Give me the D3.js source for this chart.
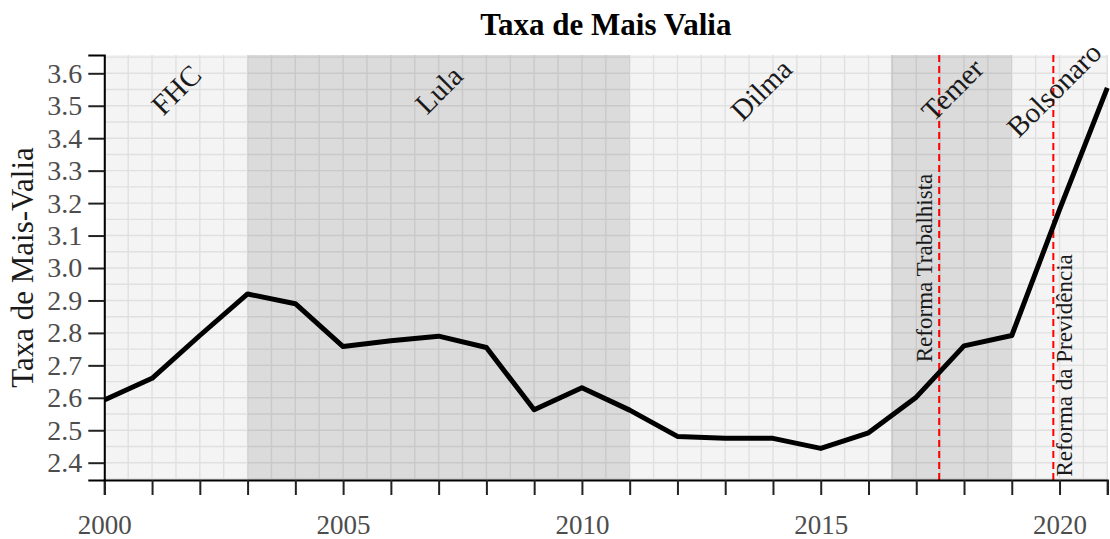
<!DOCTYPE html>
<html>
<head>
<meta charset="utf-8">
<script src="https://cdn.jsdelivr.net/npm/d3@7"></script>
<style>
    body { margin: 0; background: #fff; }
    svg text { font-family: "Liberation Serif", "Times New Roman", serif; }
</style>
</head>
<body>
<svg id="chart" width="1110" height="539"></svg>
<script>
// data
const years = [2000, 2001, 2002, 2003, 2004, 2005, 2006, 2007, 2008, 2009, 2010,
               2011, 2012, 2013, 2014, 2015, 2016, 2017, 2018, 2019, 2020, 2021]
const rates = [2.593, 2.66, 2.792, 2.92, 2.89, 2.758, 2.776, 2.79, 2.755, 2.563, 2.631,
               2.562, 2.481, 2.475, 2.475, 2.444, 2.492, 2.602, 2.76, 2.792, 3.18, 3.555]

const govNames  = ['FHC', 'Lula', 'Dilma', 'Temer', 'Bolsonaro']
const govStart  = [2000, 2003, 2011, 2016.47, 2019]
const govEnd    = [2003, 2011, 2016.47, 2019, 2021]
const govShaded = [false, true, false, true, false]
const govLabelX = [2001.5, 2007, 2013.75, 2017.75, 2019.88]

const reformNames = ['Reforma Trabalhista', 'Reforma da Previdência']
const reformDates = [2017.48, 2019.87]
const reformLabelX = [2017.16, 2020.1]
const reformLabelY = [3.0, 2.7]

const xTickLabels = [2000, 2005, 2010, 2015, 2020]
const yTickLabels = [2.4, 2.5, 2.6, 2.7, 2.8, 2.9, 3.0, 3.1, 3.2, 3.3, 3.4, 3.5, 3.6]

const plotLeft = 104.3, plotRight = 1107.3, plotTop = 55, plotBottom = 480

const svg = d3.select('#chart')

const x = d3.scaleLinear().domain([2000, 2021]).range([plotLeft, plotRight])
const y = d3.scaleLinear().domain([2.3467, 3.6564]).range([plotBottom, plotTop])

// panel
svg.append('rect')
    .attr('x', plotLeft).attr('y', plotTop)
    .attr('width', plotRight - plotLeft).attr('height', plotBottom - plotTop)
    .attr('fill', '#f4f4f4')

// grid
const gridX = d3.range(2000, 2021.01, 0.5)
const gridY = d3.range(2.35, 3.656, 0.05)

svg.append('g').selectAll('line')
    .data(gridX)
    .enter()
    .append('line')
    .attr('x1', (d) => x(d)).attr('x2', (d) => x(d))
    .attr('y1', plotTop).attr('y2', plotBottom)
    .attr('stroke', '#e0e0e0')
    .attr('stroke-width', 1.4)

svg.append('g').selectAll('line')
    .data(gridY)
    .enter()
    .append('line')
    .attr('x1', plotLeft).attr('x2', plotRight)
    .attr('y1', (d) => y(d)).attr('y2', (d) => y(d))
    .attr('stroke', '#e0e0e0')
    .attr('stroke-width', 1.4)

// shaded governments
const shadedIdx = d3.range(govNames.length).filter((i) => govShaded[i])

svg.append('g').selectAll('rect')
    .data(shadedIdx)
    .enter()
    .append('rect')
    .attr('x', (i) => x(govStart[i]))
    .attr('width', (i) => x(govEnd[i]) - x(govStart[i]))
    .attr('y', plotTop)
    .attr('height', plotBottom - plotTop)
    .attr('fill', '#000')
    .attr('opacity', 0.1)

// reform lines
svg.append('g').selectAll('line')
    .data(reformDates)
    .enter()
    .append('line')
    .attr('x1', (d) => x(d)).attr('x2', (d) => x(d))
    .attr('y1', plotTop).attr('y2', plotBottom)
    .attr('stroke', '#ff0000')
    .attr('stroke-width', 2)
    .attr('stroke-dasharray', '7,4')

// series
const line = d3.line()
    .x((d, i) => x(years[i]))
    .y((d) => y(d))

svg.append('path')
    .datum(rates)
    .attr('d', line)
    .attr('fill', 'none')
    .attr('stroke', '#000')
    .attr('stroke-width', 5)
    .attr('stroke-linejoin', 'round')

// government labels
svg.append('g').selectAll('text')
    .data(govNames)
    .enter()
    .append('text')
    .attr('transform', (d, i) => `translate(${x(govLabelX[i])},${y(3.55)}) rotate(-45)`)
    .attr('text-anchor', 'middle')
    .attr('dy', '0.35em')
    .attr('font-size', 29)
    .attr('fill', '#1a1a1a')
    .text((d) => d)

// reform labels
svg.append('g').selectAll('text')
    .data(reformNames)
    .enter()
    .append('text')
    .attr('transform', (d, i) => `translate(${x(reformLabelX[i])},${y(reformLabelY[i])}) rotate(-90)`)
    .attr('text-anchor', 'middle')
    .attr('dy', '0.35em')
    .attr('font-size', 23)
    .attr('fill', '#1a1a1a')
    .text((d) => d)

// axes
const xAxis = d3.axisBottom(x)
    .tickValues(d3.range(2000, 2022, 1))
    .tickSize(15)
    .tickFormat((d) => xTickLabels.includes(d) ? d : '')

const gx = svg.append('g')
    .attr('transform', `translate(0,${plotBottom})`)
    .call(xAxis)
gx.select('.domain').attr('stroke', '#000').attr('stroke-width', 2)
gx.selectAll('.tick line').attr('stroke', '#222').attr('stroke-width', 2)
gx.selectAll('.tick text')
    .attr('font-family', '"Liberation Serif", serif')
    .attr('font-size', 27)
    .attr('fill', '#4d4d4d')
    .attr('y', 35)
    .attr('dy', '0.71em')

const yAxis = d3.axisLeft(y)
    .tickValues(yTickLabels)
    .tickSize(16)
    .tickFormat(d3.format('.1f'))

const gy = svg.append('g')
    .attr('transform', `translate(${plotLeft},0)`)
    .call(yAxis)
gy.select('.domain').attr('stroke', '#000').attr('stroke-width', 2)
gy.selectAll('.tick line').attr('stroke', '#222').attr('stroke-width', 2)
gy.selectAll('.tick text')
    .attr('font-family', '"Liberation Serif", serif')
    .attr('font-size', 28)
    .attr('fill', '#4d4d4d')
    .attr('x', -22)

// titles
svg.append('text')
    .attr('x', (plotLeft + plotRight) / 2)
    .attr('y', 35)
    .attr('text-anchor', 'middle')
    .attr('font-size', 31)
    .attr('font-weight', 'bold')
    .attr('fill', '#000')
    .text('Taxa de Mais Valia')

svg.append('text')
    .attr('transform', `translate(33,${(plotTop + plotBottom) / 2}) rotate(-90)`)
    .attr('text-anchor', 'middle')
    .attr('font-size', 31)
    .attr('fill', '#1a1a1a')
    .text('Taxa de Mais-Valia')
</script>
</body>
</html>
